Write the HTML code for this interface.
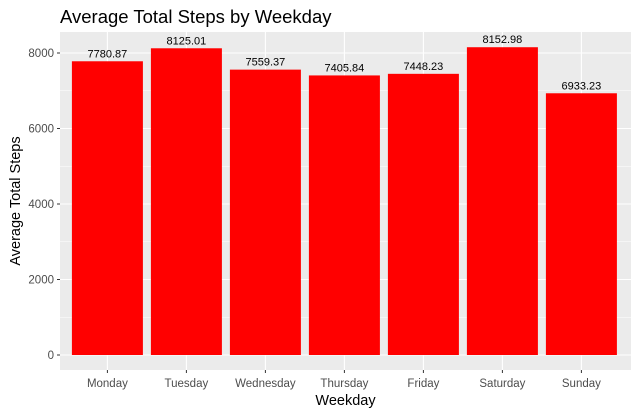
<!DOCTYPE html>
<html><head><meta charset="utf-8"><style>
body{margin:0;background:#fff;}
svg text{font-family:"Liberation Sans",Arial,sans-serif;}
</style></head><body>
<svg id="chart" width="639" height="415" xmlns="http://www.w3.org/2000/svg">
<text x="60" y="23" font-size="18.5" fill="#000">Average Total Steps by Weekday</text>
<rect x="60" y="32" width="571" height="338" fill="#ebebeb"/>
<g id="grid"></g>
<g id="bars"></g>
<g id="axes"></g>
<text x="345.5" y="405" font-size="14.5" text-anchor="middle" fill="#000">Weekday</text>
<text transform="translate(20,201) rotate(-90)" font-size="14.5" text-anchor="middle" fill="#000">Average Total Steps</text>
</svg>
<script>
const categories=["Monday","Tuesday","Wednesday","Thursday","Friday","Saturday","Sunday"];
const values=[7780.87,8125.01,7559.37,7405.84,7448.23,8152.98,6933.23];
const valueLabels=["7780.87","8125.01","7559.37","7405.84","7448.23","8152.98","6933.23"];
const yTicks=[0,2000,4000,6000,8000];
const NS="http://www.w3.org/2000/svg";
const y0=355,yScale=302/8000,pLeft=60,pRight=631,pTop=32,pBottom=370,step=79;
function yPos(v){return y0-v*yScale;}
function xPos(i){return pLeft+0.6*step+i*step;}
function mk(t,a,p){const e=document.createElementNS(NS,t);for(const k in a)e.setAttribute(k,a[k]);p.appendChild(e);return e;}
const grid=document.getElementById('grid'),bars=document.getElementById('bars'),axes=document.getElementById('axes');
for(let i=0;i<yTicks.length;i++){
  const v=yTicks[i];
  const g=mk('line',{x1:pLeft,x2:pRight,y1:yPos(v),y2:yPos(v),stroke:'#fff','stroke-width':1.1},grid);
  
  
  const vm=v+1000;
  if(yPos(vm)>pTop){
    const m=mk('line',{x1:pLeft,x2:pRight,y1:yPos(vm),y2:yPos(vm),stroke:'#fff','stroke-width':0.5},grid);
    
    
  }
  const t=mk('line',{x1:57,x2:60,y1:yPos(v),y2:yPos(v),stroke:'#333','stroke-width':1},axes);
  
  
  const l=mk('text',{x:54,y:yPos(v)+4,'font-size':11.5,'text-anchor':'end',fill:'#4d4d4d'},axes);
  l.textContent=v;
  
  
}
categories.forEach(function(c,i){
  const g=mk('line',{x1:xPos(i),x2:xPos(i),y1:pTop,y2:pBottom,stroke:'#fff','stroke-width':1.1},grid);
  
  
  const b=mk('rect',{x:xPos(i)-35.5,y:yPos(values[i]),width:71,height:yPos(0)-yPos(values[i]),fill:'#ff0000'},bars);
  
  
  const vl=mk('text',{x:xPos(i),y:yPos(values[i])-4,'font-size':11,'text-anchor':'middle',fill:'#000'},bars);
  vl.textContent=valueLabels[i];
  
  
  const t=mk('line',{x1:xPos(i),x2:xPos(i),y1:370,y2:373,stroke:'#333','stroke-width':1},axes);
  
  
  const l=mk('text',{x:xPos(i),y:387,'font-size':11.5,'text-anchor':'middle',fill:'#4d4d4d'},axes);
  l.textContent=c;
  
  
});
</script>
</body></html>
